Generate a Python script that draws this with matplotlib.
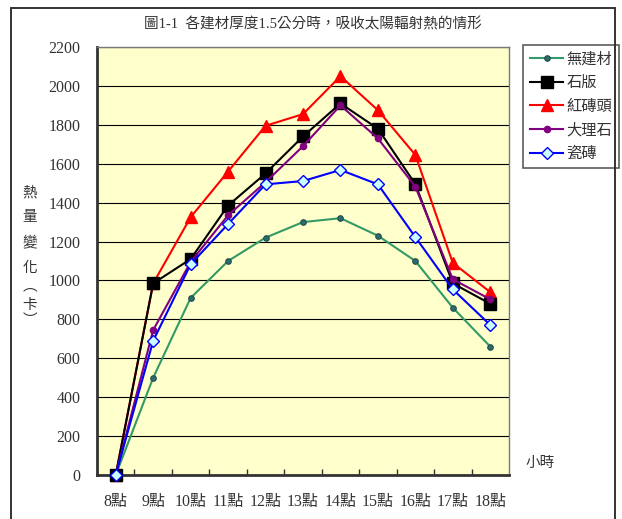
import matplotlib.pyplot as plt
from matplotlib.patches import Rectangle

plt.rcParams['font.family'] = ['Liberation Serif', 'Noto Sans CJK TC']

hours = ['8點', '9點', '10點', '11點', '12點', '13點', '14點', '15點', '16點', '17點', '18點']
none_mat = [0, 500, 910, 1100, 1220, 1300, 1320, 1230, 1100, 860, 660]
slate = [0, 985, 1110, 1385, 1550, 1740, 1910, 1780, 1495, 985, 880]
red_brick = [0, 985, 1325, 1560, 1795, 1855, 2050, 1875, 1645, 1090, 940]
marble = [0, 745, 1095, 1335, 1505, 1690, 1900, 1730, 1482, 1006, 903]
tile = [0, 690, 1083, 1290, 1494, 1511, 1568, 1494, 1223, 954, 771]

fig = plt.figure(figsize=(6.22, 5.19), dpi=100)
fig.patches.append(Rectangle((11 / 622, -0.01), 604 / 622, 1 - 8 / 519 + 0.01,
                             transform=fig.transFigure, fill=False,
                             edgecolor='#333333', linewidth=1.4))

ax = fig.add_axes([97 / 622, 44 / 519, 412 / 622, 428 / 519])
ax.set_facecolor('#FFFFCC')

x = list(range(len(hours)))
ax.plot(x, none_mat, color='#339966', lw=1.5, marker='o', ms=4,
        mfc='#2E6B6B', mec='#1F4F4F', mew=0.8, label='無建材', clip_on=False, zorder=3)
ax.plot(x, slate, color='black', lw=1.5, marker='s', ms=8,
        mfc='black', mec='black', label='石版', clip_on=False, zorder=3)
ax.plot(x, red_brick, color='#FF0000', lw=1.5, marker='^', ms=9,
        mfc='#FF0000', mec='#FF0000', label='紅磚頭', clip_on=False, zorder=2)
ax.plot(x, marble, color='#800080', lw=1.5, marker='o', ms=4.5,
        mfc='#800080', mec='#800080', label='大理石', clip_on=False, zorder=4)
ax.plot(x, tile, color='#0000FF', lw=1.5, marker='D', ms=6.5,
        mfc='#CCFFFF', mec='#0000FF', mew=1, label='瓷磚', clip_on=False, zorder=5)

ax.set_xlim(-0.5, len(hours) - 0.5)
ax.set_ylim(0, 2200)
ax.set_yticks(range(0, 2201, 200))
ax.yaxis.grid(True, color='black', lw=0.8)
ax.set_axisbelow(True)
ax.tick_params(axis='y', length=0, pad=12, labelsize=11.5, colors='#333333')

ax.set_xticks(x)
ax.set_xticklabels(hours, fontsize=11.5, color='#333333')
ax.set_xticks([i + 0.5 for i in range(len(hours) - 1)], minor=True)
ax.tick_params(axis='x', which='major', length=0, pad=14)
ax.tick_params(axis='x', which='minor', direction='in', length=4, width=1, color='#333333')

for side in ('left', 'bottom'):
    ax.spines[side].set_color('#333333')
    ax.spines[side].set_linewidth(2)
for side in ('top', 'right'):
    ax.spines[side].set_color('#777777')
    ax.spines[side].set_linewidth(1)

fig.text(313 / 622, 1 - 24 / 519, '圖1-1  各建材厚度1.5公分時，吸收太陽輻射熱的情形',
         ha='center', va='center', fontsize=10.5, color='#333333')

ylabel_chars = ['熱', '量', '變', '化', '︵', '卡', '︶']
ylabel_pos = [193, 218, 243, 268, 287, 306, 321]
for ch, yp in zip(ylabel_chars, ylabel_pos):
    fig.text(30 / 622, 1 - yp / 519, ch, ha='center', va='center',
             fontsize=10.5, color='#333333')

fig.text(540 / 622, 1 - 463 / 519, '小時', ha='center', va='center',
         fontsize=10.5, color='#333333')

leg = ax.legend(loc='upper left', bbox_to_anchor=(523 / 622, 1 - 45 / 519),
                bbox_transform=fig.transFigure, fontsize=11, frameon=True,
                fancybox=False, edgecolor='#333333', handlelength=2.2,
                handletextpad=0.2, labelspacing=0.62, borderpad=0.45,
                borderaxespad=0)
leg.get_frame().set_linewidth(1.2)
for t in leg.get_texts():
    t.set_color('#333333')

fig.savefig('out.png', dpi=100)
